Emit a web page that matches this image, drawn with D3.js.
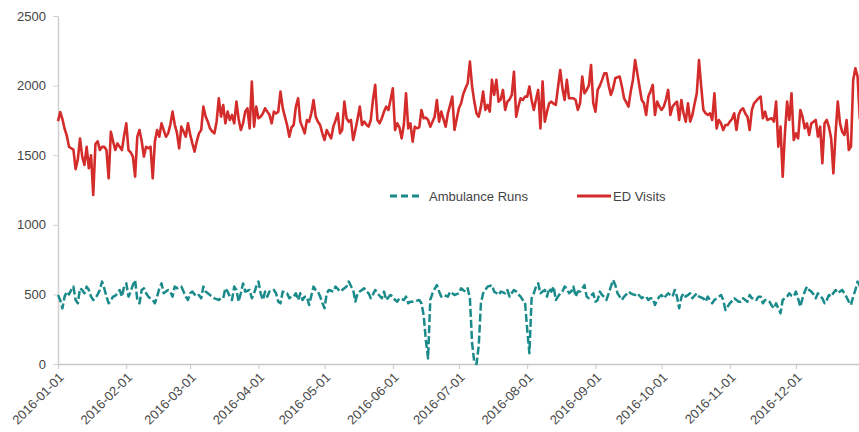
<!DOCTYPE html>
<html>
<head>
<meta charset="utf-8">
<script src="https://d3js.org/d3.v7.min.js"></script>
<style>
	body { margin: 0; background: #fff; }
	text { font-family: "Liberation Sans", Arial, Helvetica, sans-serif; }
</style>
</head>
<body>
<div id="chart"></div>
<script>
var svgWidth = 859;
var svgHeight = 432;
var margin = {top: 16, right: -3, bottom: 68, left: 58};
var chartWidth = svgWidth - margin.left - margin.right;
var chartHeight = svgHeight - margin.top - margin.bottom;

// daily values, 2016-01-01 .. 2016-12-31
var edVisits = [
	1745, 1810, 1760, 1690, 1640, 1560, 1550, 1540, 1400, 1470,
	1620, 1490, 1430, 1560, 1406, 1500, 1214, 1580, 1600, 1537,
	1560, 1560, 1537, 1334, 1669, 1600, 1537, 1585, 1560, 1537,
	1640, 1729, 1537, 1520, 1490, 1346, 1633, 1681, 1600, 1490,
	1561, 1550, 1561, 1334, 1600, 1681, 1633, 1729, 1680, 1633,
	1657, 1720, 1813, 1720, 1660, 1549, 1705, 1670, 1633, 1729,
	1650, 1585, 1526, 1600, 1657, 1681, 1849, 1780, 1741, 1693,
	1670, 1657, 1741, 1909, 1777, 1861, 1729, 1813, 1753, 1789,
	1729, 1885, 1760, 1681, 1729, 1813, 1837, 1693, 2029, 1705,
	1849, 1765, 1777, 1800, 1837, 1813, 1790, 1729, 1813, 1800,
	1813, 1957, 1840, 1777, 1717, 1633, 1700, 1717, 1850, 1909,
	1741, 1700, 1657, 1753, 1741, 1800, 1897, 1777, 1740, 1717,
	1657, 1609, 1681, 1650, 1621, 1705, 1750, 1801, 1657, 1681,
	1885, 1765, 1740, 1753, 1609, 1681, 1760, 1849, 1717, 1741,
	1720, 1705, 1753, 1900, 2005, 1753, 1729, 1765, 1813, 1849,
	1825, 1900, 1981, 1681, 1729, 1700, 1621, 1717, 1945, 1693,
	1729, 1597, 1705, 1693, 1700, 1825, 1765, 1770, 1753, 1705,
	1740, 1777, 1897, 1741, 1813, 1760, 1705, 1801, 1860, 1921,
	1681, 1760, 1837, 1873, 1940, 1981, 2017, 2172, 1993, 1885,
	1800, 1777, 1849, 1957, 1825, 1861, 1813, 2041, 1933, 2041,
	1885, 1900, 1969, 1825, 1885, 1900, 1933, 2100, 1777, 1850,
	1909, 1897, 1921, 1921, 1993, 1897, 1825, 1900, 1969, 1693,
	2030, 1740, 1813, 1873, 1885, 1870, 1861, 1990, 2112, 1981,
	1897, 2041, 1909, 1909, 1909, 1897, 1825, 1873, 2065, 1945,
	1969, 2000, 2148, 1873, 1813, 1969, 2000, 2041, 2088, 2088,
	2000, 1933, 1981, 2053, 2060, 2065, 1993, 1909, 1880, 1849,
	1957, 2041, 2184, 2088, 1990, 1897, 1873, 1789, 1921, 1960,
	2005, 1789, 1885, 1850, 1825, 1849, 1900, 1969, 1789, 1849,
	1870, 1885, 1753, 1897, 1800, 1741, 1873, 1741, 1789, 1870,
	1945, 2184, 1993, 1825, 1801, 1789, 1801, 1753, 1945, 1693,
	1753, 1729, 1681, 1717, 1717, 1741, 1760, 1801, 1681, 1789,
	1825, 1837, 1800, 1777, 1681, 1825, 1873, 1890, 1909, 1921,
	1765, 1813, 1753, 1760, 1765, 1741, 1885, 1561, 1705, 1346,
	1657, 1885, 1753, 1945, 1609, 1657, 1621, 1825, 1777, 1693,
	1729, 1645, 1729, 1740, 1753, 1633, 1705, 1442, 1729, 1753,
	1700, 1621, 1370, 1657, 1885, 1729, 1669, 1645, 1753, 1538,
	1562, 2041, 2124, 2064, 1765, 1760
];

var ambulanceRuns = [
	496, 460, 400, 484, 520, 500, 532, 556, 460, 436,
	544, 532, 508, 556, 532, 484, 460, 472, 500, 532,
	592, 544, 484, 436, 460, 484, 490, 508, 532, 484,
	556, 579, 484, 520, 568, 603, 460, 436, 532, 544,
	508, 484, 470, 460, 436, 484, 544, 579, 508, 520,
	532, 520, 484, 556, 544, 550, 556, 520, 484, 460,
	508, 520, 500, 484, 496, 472, 556, 520, 508, 496,
	484, 472, 466, 460, 472, 472, 544, 520, 484, 460,
	556, 532, 448, 508, 579, 520, 526, 532, 472, 508,
	556, 592, 508, 460, 520, 484, 520, 520, 532, 508,
	448, 436, 520, 508, 508, 472, 484, 484, 508, 460,
	508, 460, 484, 484, 424, 490, 556, 532, 520, 484,
	440, 400, 508, 532, 526, 520, 556, 540, 520, 532,
	544, 556, 592, 560, 532, 448, 508, 520, 532, 544,
	520, 508, 472, 500, 532, 508, 490, 472, 520, 460,
	480, 496, 484, 460, 448, 472, 466, 460, 484, 436,
	448, 448, 448, 455, 460, 436, 350, 170, 40, 460,
	508, 540, 567, 520, 484, 496, 490, 484, 520, 508,
	496, 502, 508, 544, 530, 520, 544, 470, 150, 10,
	0, 130, 436, 508, 532, 556, 560, 567, 520, 510,
	496, 520, 514, 508, 532, 484, 510, 532, 520, 500,
	484, 460, 448, 250, 77, 470, 508, 556, 579, 508,
	520, 532, 484, 544, 520, 556, 460, 484, 508, 520,
	556, 544, 508, 520, 556, 484, 520, 520, 540, 567,
	484, 472, 490, 508, 448, 460, 520, 496, 480, 460,
	508, 556, 603, 567, 508, 484, 460, 484, 500, 520,
	508, 500, 496, 508, 490, 472, 484, 484, 460, 472,
	472, 424, 460, 484, 496, 472, 490, 508, 496, 484,
	532, 484, 400, 480, 508, 484, 496, 508, 472, 490,
	508, 484, 478, 472, 448, 484, 460, 436, 460, 472,
	484, 496, 460, 388, 412, 436, 454, 472, 460, 448,
	448, 472, 460, 448, 496, 472, 472, 460, 484, 484,
	436, 460, 460, 448, 420, 400, 436, 400, 364, 460,
	472, 484, 508, 490, 484, 520, 470, 412, 472, 520,
	556, 532, 520, 500, 472, 508, 490, 472, 436, 460,
	496, 484, 510, 532, 508, 520, 532, 508, 480, 448,
	424, 484, 532, 592, 560, 590
];

var yTicks = [0, 500, 1000, 1500, 2000, 2500];
var seriesNames = ["Ambulance Runs", "ED Visits"];
var seriesColors = ["#1a8a8a", "#d42b2b"];

var days = d3.timeDays(new Date(2016, 0, 1), new Date(2017, 0, 1));

var svg = d3.select("#chart").append("svg")
.attr("width", svgWidth)
.attr("height", svgHeight);

var chartGroup = svg.append("g")
.attr("transform", `translate(${margin.left}, ${margin.top})`);

var xScale = d3.scaleTime()
.domain([days[0], days[days.length - 1]])
.range([0, chartWidth]);

var yScale = d3.scaleLinear()
.domain([0, 2500])
.range([chartHeight, 0]);

var bottomAxis = d3.axisBottom(xScale)
.ticks(d3.timeMonth.every(1))
.tickFormat(d3.timeFormat("%Y-%m-%d"))
.tickSize(5)
.tickSizeOuter(0);

var leftAxis = d3.axisLeft(yScale)
.tickValues(yTicks)
.tickFormat(d3.format("d"))
.tickSize(5)
.tickPadding(7)
.tickSizeOuter(0);

var xAxis = chartGroup.append("g")
.attr("transform", `translate(0, ${chartHeight})`)
.call(bottomAxis);
xAxis.select(".domain").attr("stroke", "#c8c8c8").attr("stroke-width", 1.5);
xAxis.selectAll(".tick line").attr("stroke", "#c8c8c8");
xAxis.selectAll(".tick text")
.attr("font-size", "13px")
.attr("fill", "#4a4a4a")
.attr("text-anchor", "end")
.attr("x", 0)
.attr("y", 0)
.attr("dy", "0.35em")
.attr("transform", "translate(3, 11) rotate(-45)");

var yAxis = chartGroup.append("g")
.call(leftAxis);
yAxis.select(".domain").attr("stroke", "#d0d0d0").attr("stroke-width", 1.5);
yAxis.selectAll(".tick line").attr("stroke", "#d0d0d0");
yAxis.selectAll(".tick text")
.attr("font-size", "13px")
.attr("fill", "#444");

var dayLine = d3.line()
.x(function(d, i) { return xScale(days[i]); })
.y(function(d) { return yScale(d); });

chartGroup.append("path")
.datum(ambulanceRuns)
.attr("fill", "none")
.attr("stroke", seriesColors[0])
.attr("stroke-width", 2.5)
.attr("stroke-linejoin", "round")
.attr("stroke-dasharray", "8,3")
.attr("d", dayLine);

chartGroup.append("path")
.datum(edVisits)
.attr("fill", "none")
.attr("stroke", seriesColors[1])
.attr("stroke-width", 2.6)
.attr("stroke-linejoin", "round")
.attr("d", dayLine);

//legend
var legend = svg.append("g")
.attr("transform", "translate(390, 196)");

var legendItems = legend.selectAll("g")
.data(seriesNames)
.enter()
.append("g")
.attr("transform", function(d, i) { return "translate(" + (i * 187) + ",0)"; });

legendItems.append("line")
.attr("x1", 0)
.attr("x2", function(d, i) { return i == 0 ? 31 : 34; })
.attr("y1", 0)
.attr("y2", 0)
.attr("stroke", function(d, i) { return seriesColors[i]; })
.attr("stroke-width", 3)
.attr("stroke-dasharray", function(d, i) { return i == 0 ? "7,4" : null; });

legendItems.append("text")
.attr("x", function(d, i) { return i == 0 ? 39 : 36; })
.attr("y", 0)
.attr("dy", "0.35em")
.attr("font-size", "13px")
.attr("fill", "#444")
.text(function(d) { return d; });
</script>
</body>
</html>
